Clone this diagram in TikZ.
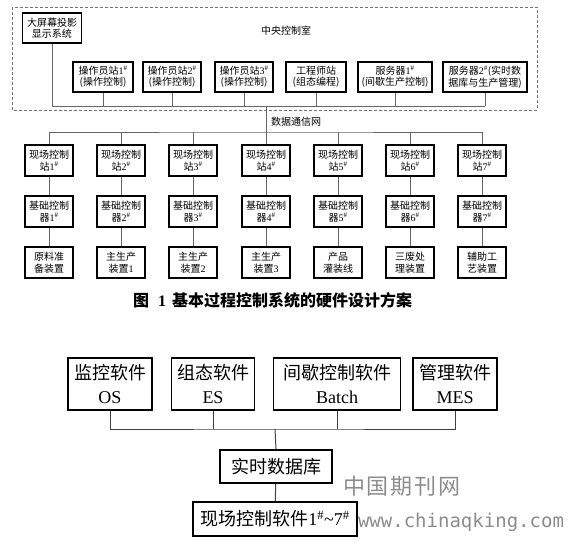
\documentclass[tikz,border=0pt]{standalone}
\usepackage{fontspec}
\setmainfont{Noto Sans CJK SC}
\newfontfamily\latin{Liberation Serif}
\newfontfamily\mono{DejaVu Sans Mono}
\usepackage{tikz}
\usetikzlibrary{positioning}

\newcommand{\sno}[1]{{\latin #1}\textsuperscript{\latin\#}}

\begin{document}
\begin{tikzpicture}[x=1pt, y=-1pt,
    unit/.style={rectangle, draw, line width=1.1pt, minimum width=48pt, minimum height=31pt, inner sep=1pt, align=center, font=\fontsize{10}{11.5}\selectfont},
    station/.style={unit, minimum height=30pt},
    softbox/.style={rectangle, draw, line width=1.8pt, minimum height=52pt, inner sep=2pt, align=center, font=\fontsize{18}{24}\selectfont},
    link/.style={draw=black!60, line width=0.8pt},
    blink/.style={draw=black!75, line width=1pt},
    watermark/.style={text=black!45, inner sep=0pt}
]
    \useasboundingbox (0,0) rectangle (569,543);

    % Control room
    \draw[black!55, line width=0.8pt, dash pattern=on 3pt off 2pt] (12,7) rectangle (537,110);
    \node[font=\fontsize{10}{12}\selectfont] (room) at (286,31) {中央控制室};
    \node[unit, minimum width=59pt, minimum height=30pt] (screen) at (52,28) {大屏幕投影\\显示系统};
    \node[station, minimum width=60pt] (op1) at (103,77) {操作员站\sno{1}\\(操作控制)};
    \node[station, minimum width=58pt] (op2) at (172,77) {操作员站\sno{2}\\(操作控制)};
    \node[station, minimum width=58pt] (op3) at (244,77) {操作员站\sno{3}\\(操作控制)};
    \node[station, minimum width=60pt] (eng) at (316,77) {工程师站\\(组态编程)};
    \node[station, minimum width=74pt] (srv1) at (395,77) {服务器\sno{1}\\(间歇生产控制)};
    \node[station, minimum width=84pt] (srv2) at (485,77) {服务器\sno{2}(实时数\\据库与生产管理)};

    % Network
    \coordinate (bus) at (266,106);
    \coordinate (net) at (266,132);
    \node[font=\fontsize{10}{12}\selectfont] (netlabel) at (296,122) {数据通信网};

    % Field stations
    \node[unit] (st1) at (49,160.5) {现场控制\\站\sno{1}};
    \node[unit] (st2) at (121,160.5) {现场控制\\站\sno{2}};
    \node[unit] (st3) at (193,160.5) {现场控制\\站\sno{3}};
    \node[unit] (st4) at (266,160.5) {现场控制\\站\sno{4}};
    \node[unit] (st5) at (338,160.5) {现场控制\\站\sno{5}};
    \node[unit] (st6) at (410,160.5) {现场控制\\站\sno{6}};
    \node[unit] (st7) at (482,160.5) {现场控制\\站\sno{7}};

    % Controllers
    \node[unit] (ct1) at (49,211.5) {基础控制\\器\sno{1}};
    \node[unit] (ct2) at (121,211.5) {基础控制\\器\sno{2}};
    \node[unit] (ct3) at (193,211.5) {基础控制\\器\sno{3}};
    \node[unit] (ct4) at (266,211.5) {基础控制\\器\sno{4}};
    \node[unit] (ct5) at (338,211.5) {基础控制\\器\sno{5}};
    \node[unit] (ct6) at (410,211.5) {基础控制\\器\sno{6}};
    \node[unit] (ct7) at (482,211.5) {基础控制\\器\sno{7}};

    % Plant units
    \node[unit] (dev1) at (49,262.5) {原料准\\备装置};
    \node[unit] (dev2) at (121,262.5) {主生产\\装置{\latin 1}};
    \node[unit] (dev3) at (193,262.5) {主生产\\装置{\latin 2}};
    \node[unit] (dev4) at (266,262.5) {主生产\\装置{\latin 3}};
    \node[unit] (dev5) at (338,262.5) {产品\\灌装线};
    \node[unit] (dev6) at (410,262.5) {三废处\\理装置};
    \node[unit] (dev7) at (482,262.5) {辅助工\\艺装置};

    % Links
    \draw[link] (screen.south) |- (srv2.south |- bus);
    \draw[link] (op1.south) -- (op1.south |- bus);
    \draw[link] (op2.south) -- (op2.south |- bus);
    \draw[link] (op3.south) -- (op3.south |- bus);
    \draw[link] (eng.south) -- (eng.south |- bus);
    \draw[link] (srv1.south) -- (srv1.south |- bus);
    \draw[link] (srv2.south) -- (srv2.south |- bus);
    \draw[link] (bus) -- (st4.north);
    \draw[link] (st1.north) |- (net) -| (st7.north);
    \draw[link] (st2.north) -- (st2.north |- net);
    \draw[link] (st3.north) -- (st3.north |- net);
    \draw[link] (st5.north) -- (st5.north |- net);
    \draw[link] (st6.north) -- (st6.north |- net);
    \draw[link] (st1) -- (ct1) (ct1) -- (dev1);
    \draw[link] (st2) -- (ct2) (ct2) -- (dev2);
    \draw[link] (st3) -- (ct3) (ct3) -- (dev3);
    \draw[link] (st4) -- (ct4) (ct4) -- (dev4);
    \draw[link] (st5) -- (ct5) (ct5) -- (dev5);
    \draw[link] (st6) -- (ct6) (ct6) -- (dev6);
    \draw[link] (st7) -- (ct7) (ct7) -- (dev7);

    % Caption
    \node[font=\fontsize{16}{18}\selectfont\bfseries] (caption) at (272.5,300) {图\hspace{9pt}{\latin\bfseries 1}\hspace{6pt}基本过程控制系统的硬件设计方案};

    % Software
    \node[softbox, minimum width=84pt] (os) at (110,384) {监控软件\\{\latin OS}};
    \node[softbox, minimum width=83pt] (es) at (213,384) {组态软件\\{\latin ES}};
    \node[softbox, minimum width=127pt] (batch) at (337,384) {间歇控制软件\\{\latin Batch}};
    \node[softbox, minimum width=84pt] (mes) at (455,384) {管理软件\\{\latin MES}};
    \node[softbox, minimum width=112pt, minimum height=33pt] (rtdb) at (276,466.5) {实时数据库};
    \node[softbox, minimum width=164pt, minimum height=34pt] (fieldsw) at (275,519) {现场控制软件\sno{1}{\latin\char`\~}\sno{7}};

    \coordinate (swbus) at (275,429);
    \draw[blink] (os.south) |- (swbus) -| (mes.south);
    \draw[blink] (es.south) -- (es.south |- swbus);
    \draw[blink] (batch.south) -- (batch.south |- swbus);
    \draw[blink] (swbus) -- (rtdb.north);
    \draw[blink] (rtdb) -- (fieldsw);

    % Watermark
    \node[watermark, font=\fontsize{22}{24}\selectfont] (wmcn) at (402,486) {中\hspace{2pt}国\hspace{2pt}期\hspace{2pt}刊\hspace{2pt}网};
    \node[watermark, font=\mono\fontsize{19}{22}\selectfont] (wmurl) at (461,522) {www.chinaqking.com};
\end{tikzpicture}
\end{document}
